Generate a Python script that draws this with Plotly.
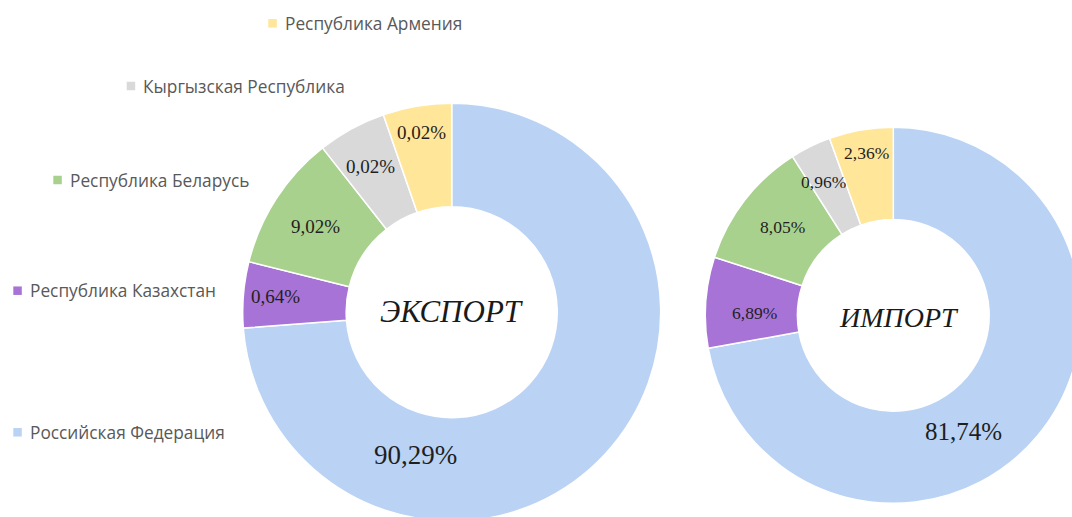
import plotly.graph_objects as go

# ---- data ----
countries = ["Российская Федерация", "Республика Казахстан", "Республика Беларусь",
             "Кыргызская Республика", "Республика Армения"]
# shares printed on the slices (%)
export_share = [90.29, 0.64, 9.02, 0.02, 0.02]
import_share = [81.74, 6.89, 8.05, 0.96, 2.36]
# slice sizes as drawn in the picture (relative angular size)
export_slice = [73.75, 5.1, 10.5, 5.3, 5.3]
import_slice = [72.2, 7.8, 11.0, 3.5, 5.5]
center_titles = ["ЭКСПОРТ", "ИМПОРТ"]

# ---- styles / layout ----
colors = ["#BAD3F4", "#A873D6", "#A9D18E", "#D9D9D9", "#FFE699"]
W, H = 1085, 525


def px_x(x):
    return x / W


def px_y(y):
    return (H - y) / H


def fmt(v):
    return f"{v:.2f}".replace(".", ",") + "%"


fig = go.Figure()

donuts = [
    dict(vals=export_slice, share=export_share, cx=451.7, cy=312.2, r=209, hole=0.505,
         title=center_titles[0], tsize=31, tpos=(451.7, 311.7),
         lab_pos=[(415.8, 455), (275.8, 296.7), (315.5, 226), (370.3, 166.7), (421, 132.7)],
         lab_size=[27, 19, 19, 19, 19]),
    dict(vals=import_slice, share=import_share, cx=893.3, cy=315.3, r=188, hole=0.51,
         title=center_titles[1], tsize=28, tpos=(898.7, 317.3),
         lab_pos=[(963.3, 431.7), (754, 313.3), (782.5, 227.3), (823, 181.7), (866, 152.7)],
         lab_size=[25, 17.5, 17.5, 17.5, 17.5]),
]

annotations = []
for d in donuts:
    fig.add_trace(go.Pie(
        labels=countries, values=d["vals"], sort=False, direction="clockwise", rotation=0,
        hole=d["hole"], textinfo="none", hoverinfo="label+text", text=[fmt(v) for v in d["share"]],
        marker=dict(colors=colors, line=dict(color="white", width=1.5)),
        domain=dict(x=[px_x(d["cx"] - d["r"]), px_x(d["cx"] + d["r"])],
                    y=[px_y(d["cy"] + d["r"]), px_y(d["cy"] - d["r"])]),
        showlegend=False,
    ))
    for (lx, ly), s, v in zip(d["lab_pos"], d["lab_size"], d["share"]):
        annotations.append(dict(x=px_x(lx), y=px_y(ly), xref="paper", yref="paper",
                                text=fmt(v), showarrow=False, xanchor="center", yanchor="middle",
                                font=dict(family="Liberation Serif", size=s, color="#1f1f1f")))
    annotations.append(dict(x=px_x(d["tpos"][0]), y=px_y(d["tpos"][1]), xref="paper", yref="paper",
                            text=f"<i>{d['title']}</i>", showarrow=False,
                            xanchor="center", yanchor="middle",
                            font=dict(family="Liberation Serif", size=d["tsize"], color="#1a1a1a")))

# staggered legend entries (marker left x, center y)
legend_pos = [(13.3, 432.3), (13.3, 290.7), (53.3, 180), (126.7, 86), (268.3, 23.3)]
shapes = []
for name, col, (mx, my) in zip(countries, colors, legend_pos):
    shapes.append(dict(type="rect", xref="paper", yref="paper",
                       x0=px_x(mx), x1=px_x(mx + 8.5), y0=px_y(my + 4.25), y1=px_y(my - 4.25),
                       fillcolor=col, line=dict(width=0)))
    annotations.append(dict(x=px_x(mx + 14.5), y=px_y(my), xref="paper", yref="paper",
                            text=name, showarrow=False, xanchor="left", yanchor="middle",
                            font=dict(family="Open Sans", size=17.3, color="#595959")))

fig.update_layout(
    width=W, height=H, autosize=False,
    margin=dict(l=0, r=0, t=0, b=0),
    paper_bgcolor="white", plot_bgcolor="white",
    annotations=annotations, shapes=shapes,
)

fig.write_html("out.html", config={"displayModeBar": False}, post_script=(
    "document.body.style.margin='0';"
    "document.body.style.overflow='hidden';"
    "document.documentElement.style.overflow='hidden';"
))
